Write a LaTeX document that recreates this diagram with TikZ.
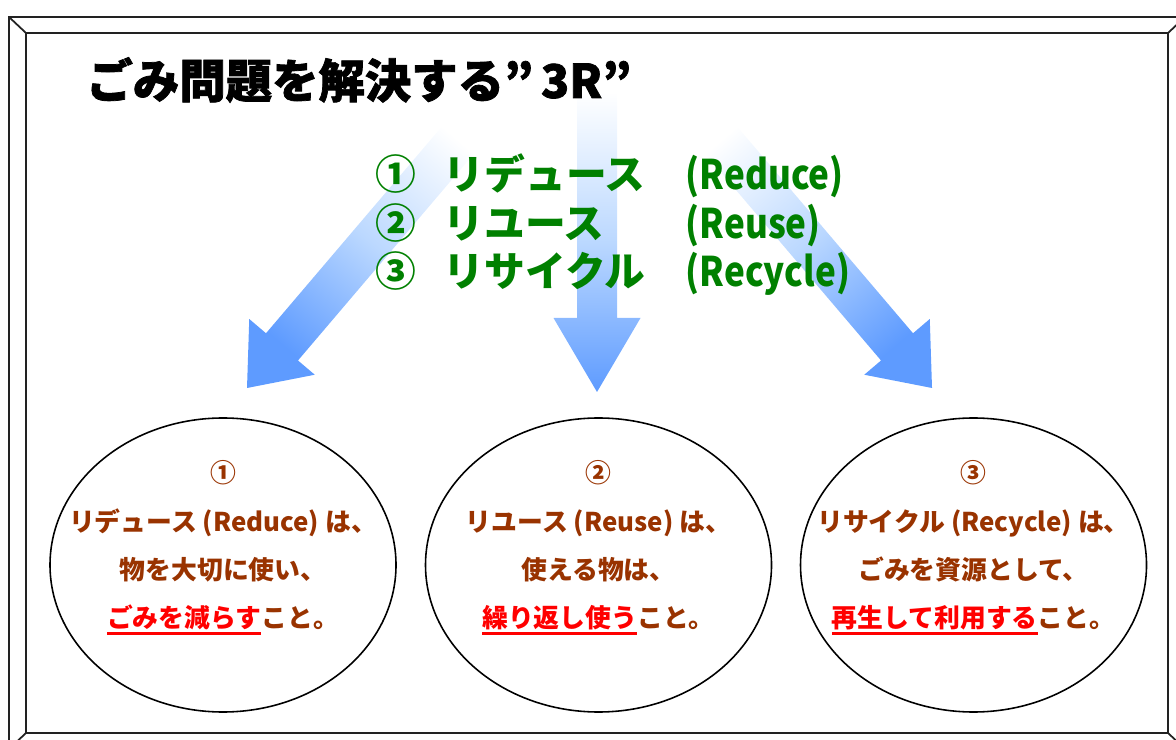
\documentclass[tikz,border=0pt]{standalone}
\usepackage{fontspec}
\usepackage{xcolor}
\usepackage{graphicx}
\usetikzlibrary{shapes.geometric, calc, positioning}

\newfontfamily\jp{Noto Sans CJK JP}
\newfontfamily\jptitle{Noto Sans CJK JP}[BoldFeatures={FakeBold=1.6}]

\definecolor{frameline}{HTML}{222222}
\definecolor{listgreen}{HTML}{008000}
\definecolor{textbrown}{HTML}{993300}
\definecolor{arrowblue}{HTML}{5E9BFF}
\definecolor{arrowmid}{HTML}{BBD8FF}

% red, underlined key phrase
\newcommand{\keypart}[1]{{\color{red}\setbox0\hbox{#1}\rlap{\rule[-2.2pt]{\wd0}{0.85pt}}\box0}}

\begin{document}
\begin{tikzpicture}[
    font=\jp\bfseries,
    % Text styles
    titletext/.style={font=\jptitle\bfseries\fontsize{13.2}{15}\selectfont, inner sep=0pt},
    listtext/.style={font=\jp\bfseries\fontsize{11.6}{14}\selectfont, text=listgreen, inner sep=0pt, anchor=base west},
    bubble/.style={draw, ellipse, fill=white, line width=0.45pt, minimum width=3.46cm, minimum height=2.94cm, inner sep=0pt},
    bubbletext/.style={font=\jp\bfseries\fontsize{7.35}{13.7}\selectfont, text=textbrown, align=center, inner sep=0pt},
    framebox/.style={draw=frameline, line width=0.5pt},
    % Fat block arrow: {shaft half width}{head half width}{head length}
    fatarrow/.style n args={3}{to path={
        ($(\tikztostart)!#1!90:(\tikztotarget)$)
        -- ($(\tikztotarget)!#3!(\tikztostart)!#1!90:(\tikztotarget)$)
        -- ($(\tikztotarget)!#3!(\tikztostart)!#2!90:(\tikztotarget)$)
        -- (\tikztotarget)
        -- ($(\tikztotarget)!#3!(\tikztostart)!#2!-90:(\tikztotarget)$)
        -- ($(\tikztotarget)!#3!(\tikztostart)!#1!-90:(\tikztotarget)$)
        -- ($(\tikztostart)!#1!-90:(\tikztotarget)$) -- cycle}},
    fadeblue/.style={top color=white, bottom color=arrowblue, middle color=arrowmid, shading angle=#1}
]

\useasboundingbox (0,0) rectangle (11.76,-7.40);
\clip (0,0) rectangle (11.76,-7.40);

% ========== Frame ==========
\draw[framebox] (0.09,-0.17) rectangle (11.85,-7.49);
\draw[framebox] (0.26,-0.33) rectangle (11.68,-7.33);
\draw[framebox] (0.09,-0.17) -- (0.26,-0.33);
\draw[framebox] (11.85,-0.17) -- (11.68,-0.33);
\draw[framebox] (0.09,-7.49) -- (0.26,-7.33);
\draw[framebox] (11.85,-7.49) -- (11.68,-7.33);

% ========== Arrows ==========
\coordinate (tail1) at (4.81,-1.13);
\coordinate (tip1) at (2.47,-3.88);
\coordinate (tail2) at (5.97,-0.92);
\coordinate (tip2) at (5.97,-3.92);
\coordinate (tail3) at (6.98,-1.13);
\coordinate (tip3) at (9.32,-3.88);

\path[fadeblue=-40.4, fatarrow={0.21cm}{0.43cm}{0.54cm}] (tail1) to (tip1);
\path[fadeblue=0, fatarrow={0.20cm}{0.435cm}{0.74cm}] (tail2) to (tip2);
\path[fadeblue=40.4, fatarrow={0.21cm}{0.43cm}{0.54cm}] (tail3) to (tip3);

% ========== Title ==========
\node[titletext] (title) at (3.59,-0.80) {ごみ問題を解決する”\,3R”};

% ========== 3R list ==========
\node[listtext] (num1) at (3.75,-1.90) {①};
\node[listtext] (kana1) at (4.43,-1.90) {リデュース};
\node[listtext] (word1) at (6.85,-1.90) {\scalebox{0.86}[1]{(Reduce)}};

\node[listtext] (num2) at (3.75,-2.385) {②};
\node[listtext] (kana2) at (4.43,-2.385) {リユース};
\node[listtext] (word2) at (6.85,-2.385) {\scalebox{0.86}[1]{(Reuse)}};

\node[listtext] (num3) at (3.75,-2.87) {③};
\node[listtext] (kana3) at (4.43,-2.87) {リサイクル};
\node[listtext] (word3) at (6.85,-2.87) {\scalebox{0.86}[1]{(Recycle)}};

% ========== Bubbles ==========
\node[bubble] (reduce) at (2.23,-5.65) {};
\node[bubble] (reuse) at (5.985,-5.65) {};
\node[bubble] (recycle) at (9.735,-5.65) {};

\node[bubbletext] (reducetext) at (2.23,-5.48) {①\\リデュース (Reduce) は、\\物を大切に使い、\\\keypart{ごみを減らす}こと。};
\node[bubbletext] (reusetext) at (5.985,-5.48) {②\\リユース (Reuse) は、\\使える物は、\\\keypart{繰り返し使う}こと。};
\node[bubbletext] (recycletext) at (9.735,-5.48) {③\\リサイクル (Recycle) は、\\ごみを資源として、\\\keypart{再生して利用する}こと。};

\end{tikzpicture}
\end{document}
